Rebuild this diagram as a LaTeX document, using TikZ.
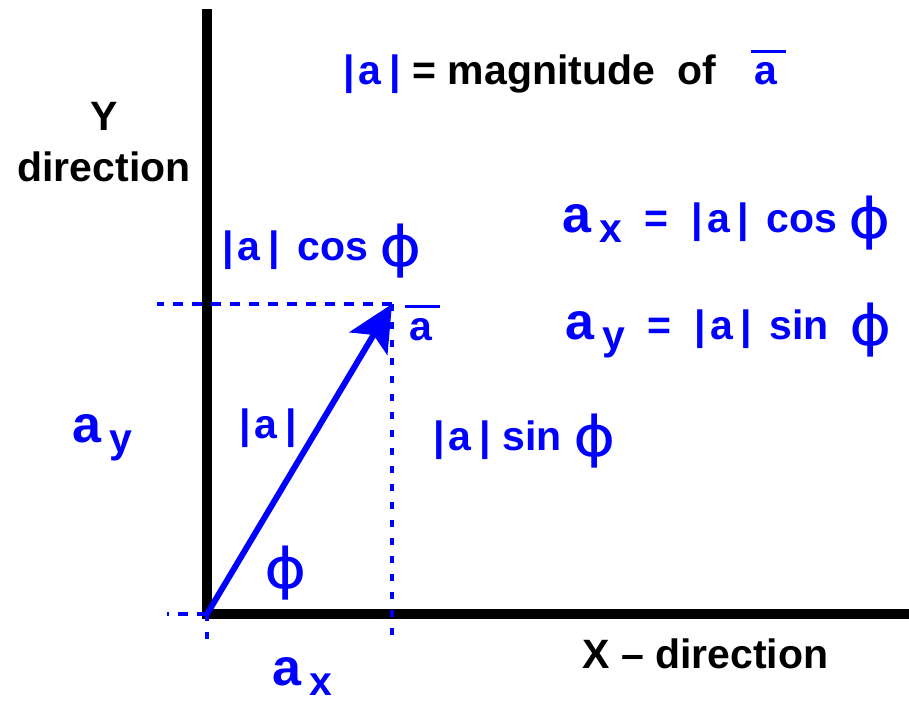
\documentclass[tikz,border=0pt]{standalone}
\usepackage{fontspec}
\usepackage{graphicx}
\setmainfont{Liberation Sans}
\newfontfamily\phifont{DejaVu Sans}
\usetikzlibrary{arrows.meta}

\newcommand\absa{|\kern2pt a\kern4pt|}
\newcommand\barred[1]{\vbox{\hrule height 1.5pt\kern5pt\hbox{\kern2pt #1\kern4pt}}}
\newcommand\phig{\raisebox{-3pt}{\scalebox{1.15}[1]{\phifont\mdseries\fontsize{28}{28}\selectfont ϕ}}}
\newcommand\biga{{\fontsize{26}{26}\selectfont a}}
\newcommand\lowsub[1]{\raisebox{-5pt}{#1}}

\begin{document}
\begin{tikzpicture}[x=0.5pt, y=-0.5pt, font=\bfseries\fontsize{20.5}{25.5}\selectfont,
    txt/.style={inner sep=0pt, anchor=base west},
    blu/.style={txt, text=blue},
    axis/.style={line width=5pt, line join=miter},
    proj/.style={blue, line width=1.6pt, dash pattern=on 5pt off 4.5pt},
    projv/.style={proj, dash pattern=on 3.5pt off 5.5pt},
    vec/.style={blue, line width=3pt, -{Stealth[length=23pt, width=22pt, inset=5pt]}}]
    \useasboundingbox (0,0) rectangle (909,701);

    \coordinate (O) at (207,614);
    \coordinate (T) at (392,304);
    \coordinate (ytop) at (207,9);
    \coordinate (xend) at (909,614);
    \coordinate (hl) at (157,304);
    \coordinate (vb) at (392,643);
    \coordinate (ol) at (167,614);
    \coordinate (ob) at (207,644);

    % axes
    \draw[axis] (ytop) -- (O) -- (xend);

    % projections
    \draw[proj] (T) -- (hl);
    \draw[projv] (T) -- (vb);
    \draw[proj] (O) -- (ol);
    \draw[projv] (O) -- (ob);

    % the vector
    \draw[vec] (O) -- (T);

    \node[align=center, inner sep=0pt, anchor=base] (ylab) at (104,181) {Y\\direction};
    \node[txt] (xlab) at (582,668) {X – direction};
    \node[txt] (title) at (343,85)
        {{\color{blue}\absa} = magnitude\ \ of\ \ \ {\color{blue}\barred{a}}};

    \node[blu] (acos) at (222,260) {\absa\ \kern3pt cos\ \phig};
    \node[blu] (alab) at (405,340) {\barred{a}};
    \node[blu] (axeq) at (562,232)
        {\biga\kern4pt\lowsub{x}\ \ =\ \ \absa\ \kern3pt cos\ \phig};
    \node[blu] (ayeq) at (565,339)
        {\biga\kern4pt\lowsub{y}\ \ =\ \ \absa\ \kern3pt sin\hspace{10pt}\phig};

    \node[blu] (aylab) at (72,442) {\biga\kern4pt\lowsub{y}};
    \node[blu] (maglab) at (239,438) {\absa};
    \node[blu] (asin) at (433,450) {\absa\ sin\ \phig};
    \node[blu, anchor=center] (philab) at (286,573) {\phig};
    \node[blu] (axlab) at (272,685) {\biga\kern4pt\lowsub{x}};
\end{tikzpicture}
\end{document}
